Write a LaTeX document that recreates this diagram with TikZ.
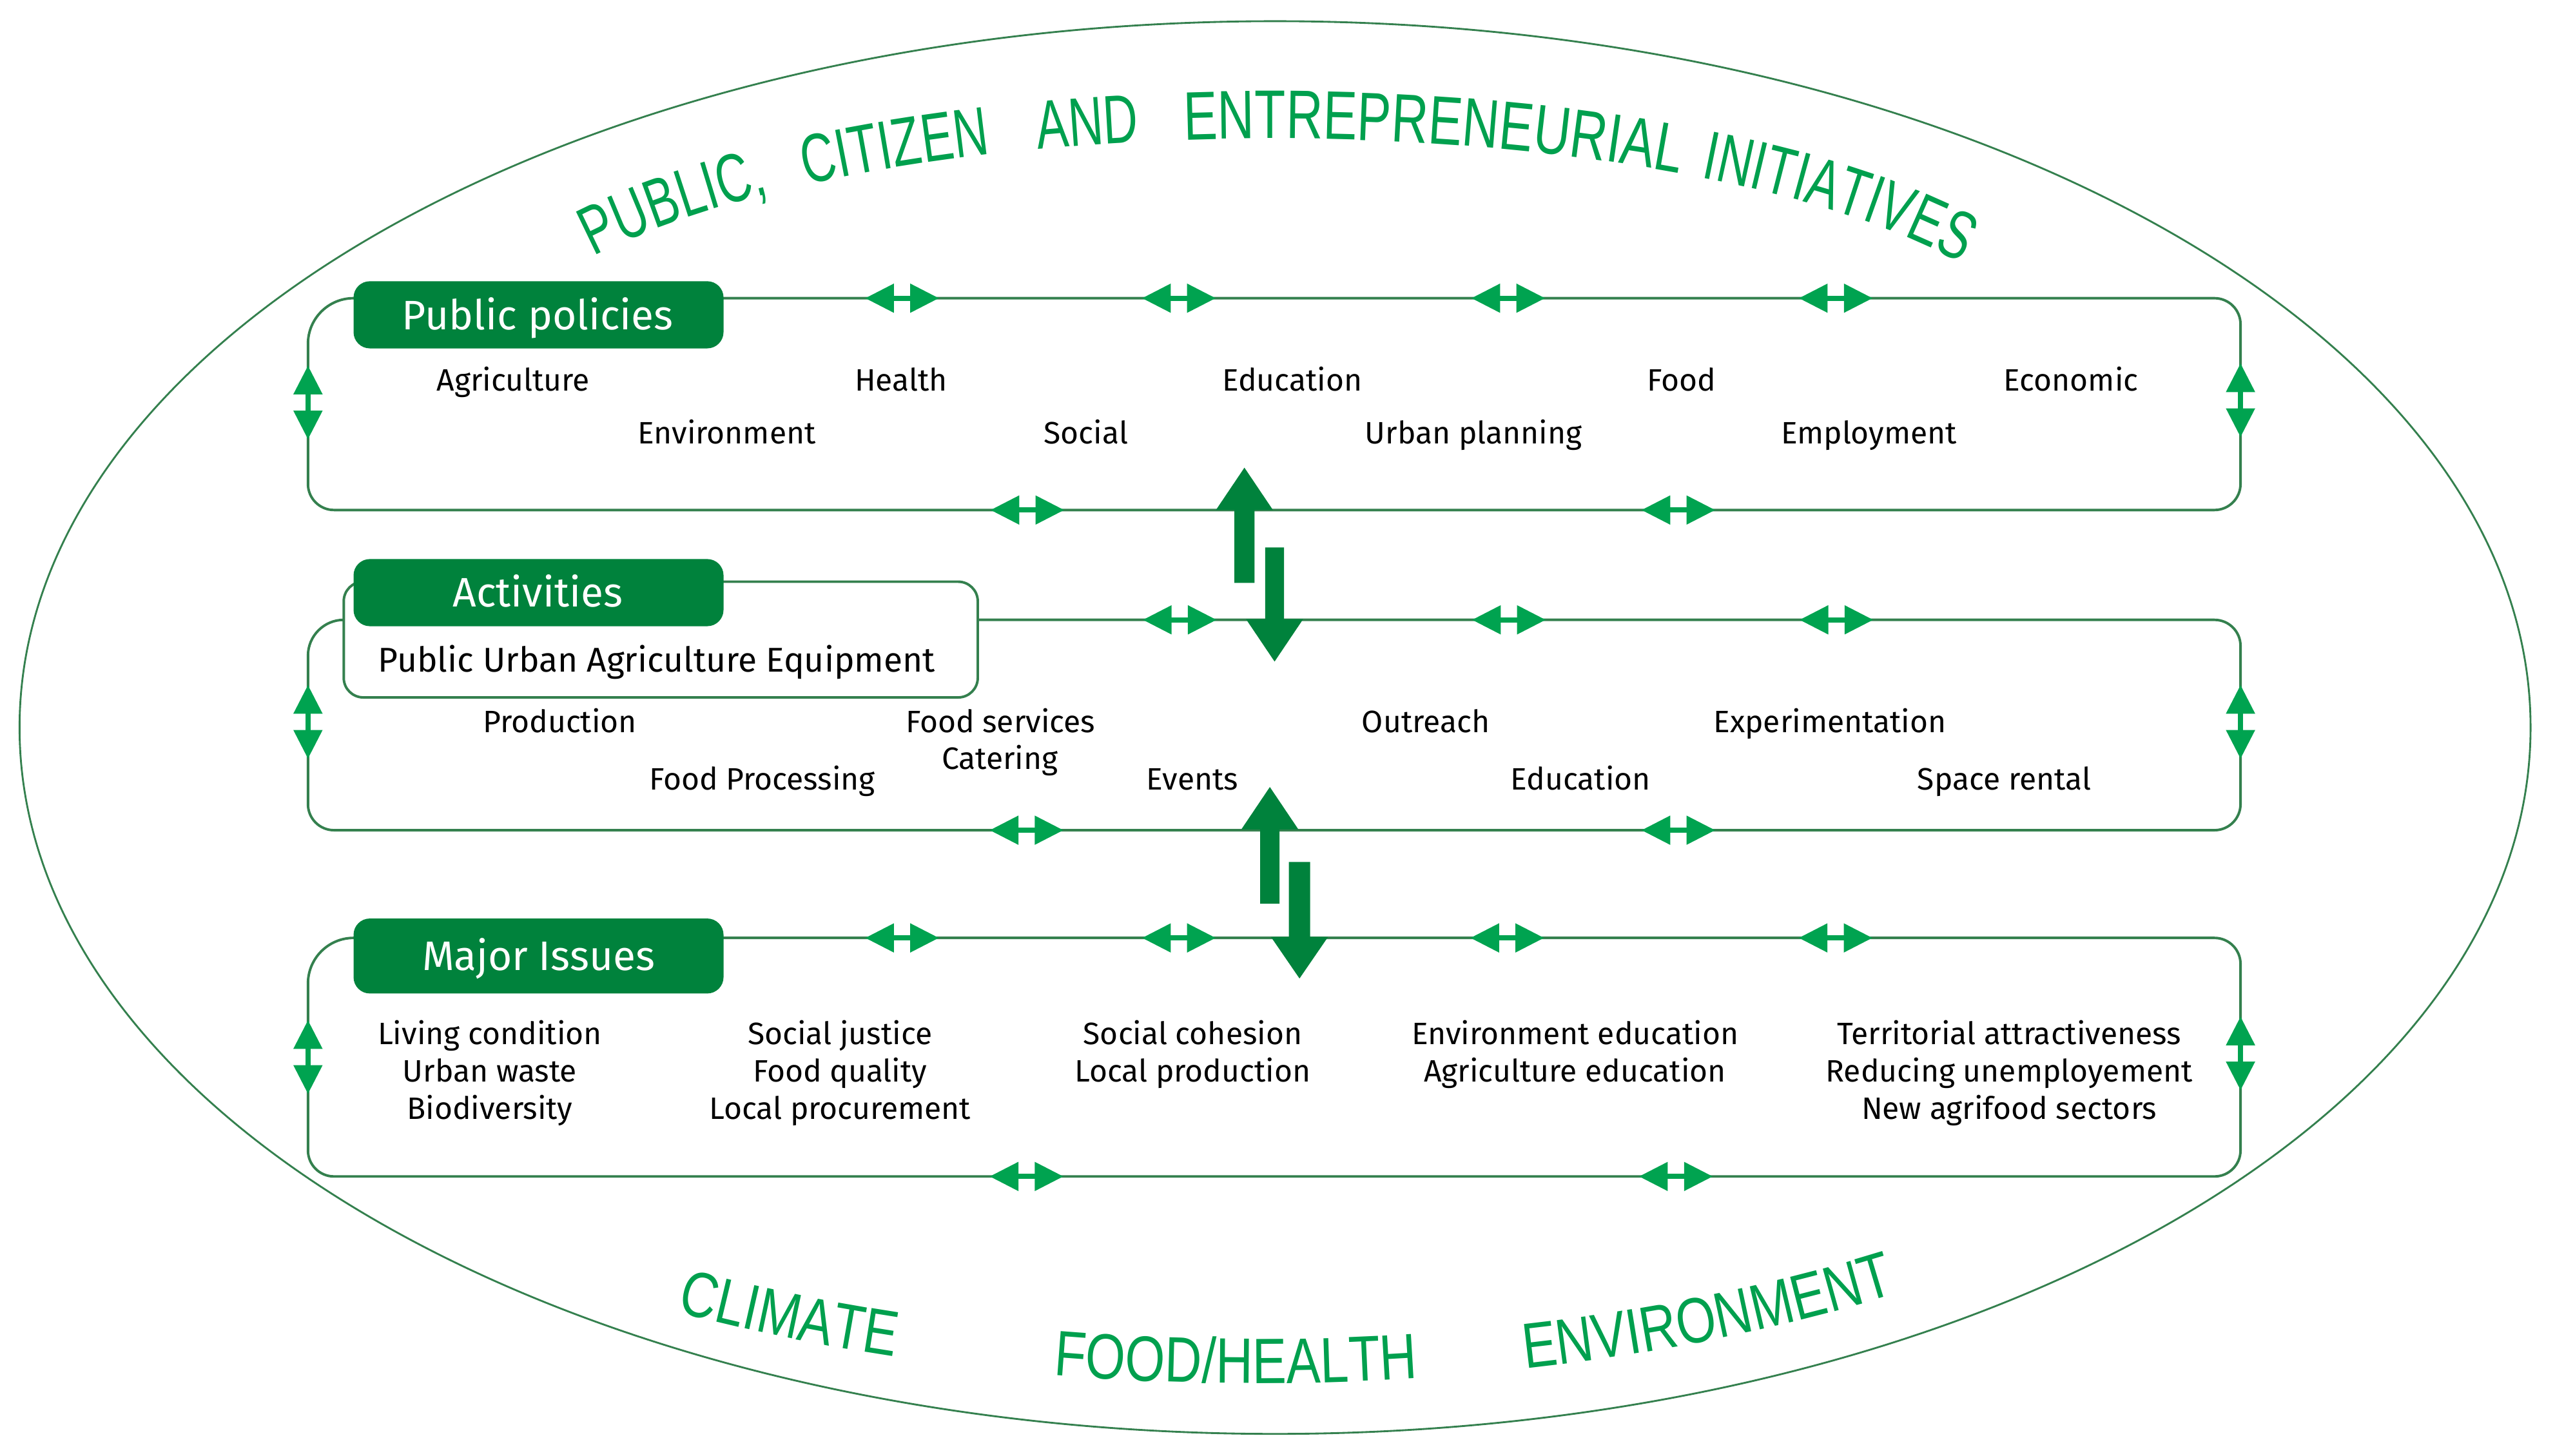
\documentclass[tikz,border=0pt]{standalone}
\usepackage{fontspec}
\setmainfont{Fira Sans}
\newfontfamily\arcfontA[FakeStretch=0.7]{Liberation Sans}
\newfontfamily\arcfontC[FakeStretch=0.74]{Liberation Sans}
\newfontfamily\arcfontB[FakeStretch=0.8]{Liberation Sans}
\usetikzlibrary{decorations.text}
\definecolor{boxgreen}{RGB}{0,130,60}
\definecolor{tipgreen}{RGB}{0,163,80}
\definecolor{linegreen}{RGB}{52,128,78}
\definecolor{arcgreen}{RGB}{0,160,78}
\newcommand\myarcA{\arcfontA\fontsize{30}{32}\selectfont\color{arcgreen}}
\newcommand\myarcC{\arcfontC\fontsize{30}{32}\selectfont\color{arcgreen}}
\newcommand\myarcB{\arcfontB\fontsize{28}{30}\selectfont\color{arcgreen}}
\tikzset{
  panel/.style={draw=linegreen, line width=1.1pt},
  outerring/.style={draw=linegreen, line width=0.8pt},
  labelbox/.style={fill=boxgreen, rounded corners=0.25cm, minimum width=5.675cm, minimum height=1.03cm, inner sep=0pt},
  labeltext/.style={text=white, font=\fontsize{18}{20}\selectfont, inner sep=0pt, anchor=base},
  whitebox/.style={draw=linegreen, line width=1.1pt, fill=white, rounded corners=0.3cm, minimum width=9.725cm, minimum height=1.775cm, inner sep=0pt},
  equiptext/.style={font=\fontsize{15}{18}\selectfont, inner sep=0pt, anchor=base},
  item/.style={font=\fontsize{13.5}{16}\selectfont, inner sep=0pt, anchor=base},
  bigarrow/.style={fill=boxgreen},
  dblarrow/.pic={
    \fill[tipgreen] (-22.5,0) -- (-5,9) -- (-5,-9) -- cycle;
    \fill[tipgreen] (22.5,0) -- (5,9) -- (5,-9) -- cycle;
    \fill[tipgreen] (-6,-1.6) rectangle (6,1.6);
  },
  arctop/.style={decorate, decoration={text along path, text align=center, text={|\myarcA|#1}}},
  arctopwide/.style={decorate, decoration={text along path, text align=center, text={|\myarcC|#1}}},
  arcbot/.style={decorate, decoration={text along path, text align=center, text={|\myarcB|#1}}}
}
\begin{document}
\begin{tikzpicture}[x=0.025cm, y=0.025cm]
\useasboundingbox (0,0) rectangle (1568,-893.5);

% outer ellipse
\draw[outerring] (782.5,-446.5) ellipse [x radius=770.5, y radius=433.5];

% arc texts
\path[arctop={PUBLIC,}] ([shift={(155:480 and 145)}]780,-230) arc[start angle=155, end angle=126.6, x radius=480, y radius=145];
\path[arctop={CITIZEN}] ([shift={(130:480 and 145)}]780,-230) arc[start angle=130, end angle=108, x radius=480, y radius=145];
\path[arctop={AND}] ([shift={(111.6:480 and 145)}]780,-230) arc[start angle=111.6, end angle=95.6, x radius=480, y radius=145];
\path[arctopwide={ENTREPRENEURIAL}] ([shift={(98.75:480 and 145)}]780,-230) arc[start angle=98.75, end angle=55.75, x radius=480, y radius=145];
\path[arctop={INITIATIVES}] ([shift={(58.7:480 and 145)}]780,-230) arc[start angle=58.7, end angle=24.7, x radius=480, y radius=145];

\path[arcbot={CLIMATE}] ([shift={(225:700 and 319)}]770,-530) arc[start angle=225, end angle=264, x radius=700, y radius=319];
\path[arcbot={FOOD/HEALTH}] ([shift={(250:700 and 319)}]770,-530) arc[start angle=250, end angle=288, x radius=700, y radius=319];
\path[arcbot={ENVIRONMENT}] ([shift={(275.3:700 and 319)}]770,-530) arc[start angle=275.3, end angle=314.3, x radius=700, y radius=319];

% panels
\draw[panel] (217,-183) -- (1359,-183) arc[start angle=90,end angle=0,radius=16] -- (1375,-297) arc[start angle=0,end angle=-90,radius=16] -- (205,-313) arc[start angle=270,end angle=180,radius=16] -- (189,-211) arc[start angle=180,end angle=90,radius=28];
\draw[panel] (600,-380.4) -- (1359,-380.4) arc[start angle=90,end angle=0,radius=16] -- (1375,-493.5) arc[start angle=0,end angle=-90,radius=16] -- (205,-509.5) arc[start angle=270,end angle=180,radius=16] -- (189,-402.4) arc[start angle=180,end angle=90,radius=22];
\draw[panel] (217,-575.6) -- (1359,-575.6) arc[start angle=90,end angle=0,radius=16] -- (1375,-706) arc[start angle=0,end angle=-90,radius=16] -- (205,-722) arc[start angle=270,end angle=180,radius=16] -- (189,-603.6) arc[start angle=180,end angle=90,radius=28];

% label boxes
\node[labelbox] (ppbox) at (330.5,-193.2) {};
\node[labeltext] (pptxt) at (330,-202.4) {Public policies};
\node[whitebox] (puabox) at (405.5,-392.5) {};
\node[equiptext] (puatxt) at (403,-412.4) {Public Urban Agriculture Equipment};
\node[labelbox] (actbox) at (330.5,-363.7) {};
\node[labeltext] (acttxt) at (330,-372.5) {Activities};
\node[labelbox, minimum height=1.15cm] (mibox) at (330.5,-586.7) {};
\node[labeltext] (mitxt) at (330.5,-595.7) {Major Issues};

% big arrows
\fill[bigarrow] (763.7,-287) -- (781.2,-313) -- (769.9,-313) -- (769.9,-357.7) -- (757.5,-357.7) -- (757.5,-313) -- (746.2,-313) -- cycle;
\fill[bigarrow] (782.2,-406) -- (799.7,-380) -- (788,-380) -- (788,-336) -- (776.4,-336) -- (776.4,-380) -- (764.7,-380) -- cycle;
\fill[bigarrow] (779.3,-483) -- (796.8,-509) -- (785.2,-509) -- (785.2,-554.6) -- (773.4,-554.6) -- (773.4,-509) -- (761.8,-509) -- cycle;
\fill[bigarrow] (797.5,-600.5) -- (815,-575) -- (804,-575) -- (804,-529) -- (791,-529) -- (791,-575) -- (780,-575) -- cycle;

% double arrowheads
\foreach \x in {553.6,723.5,925.6,1126.6} \pic at (\x,-183) {dblarrow};
\foreach \x in {630.5,1030} \pic at (\x,-313) {dblarrow};
\foreach \x in {724,926,1127} \pic at (\x,-380.4) {dblarrow};
\foreach \x in {630,1030} \pic at (\x,-509.5) {dblarrow};
\foreach \x in {553.6,723.5,925,1126.5} \pic at (\x,-575.6) {dblarrow};
\foreach \x in {630,1028.5} \pic at (\x,-722) {dblarrow};
\pic[rotate=90] at (189,-247) {dblarrow};
\pic[rotate=90] at (1375,-245.6) {dblarrow};
\pic[rotate=90] at (189,-443) {dblarrow};
\pic[rotate=90] at (1375,-443) {dblarrow};
\pic[rotate=90] at (189,-648.7) {dblarrow};
\pic[rotate=90] at (1375,-646.5) {dblarrow};

% public policies items
\node[item] (p1) at (315,-240) {Agriculture};
\node[item] (p2) at (553,-240) {Health};
\node[item] (p3) at (793,-240) {Education};
\node[item] (p4) at (1032,-240) {Food};
\node[item] (p5) at (1271,-240) {Economic};
\node[item] (p6) at (446,-272.4) {Environment};
\node[item] (p7) at (666.5,-272.4) {Social};
\node[item] (p8) at (904.3,-272.4) {Urban planning};
\node[item] (p9) at (1147,-272.4) {Employment};

% activities items
\node[item] (a1) at (343.6,-449.6) {Production};
\node[item] (a2) at (614,-449.6) {Food services};
\node[item] (a3) at (613.6,-472) {Catering};
\node[item] (a4) at (875,-449.6) {Outreach};
\node[item] (a5) at (1123,-449.6) {Experimentation};
\node[item] (a6) at (467.8,-484.6) {Food Processing};
\node[item] (a7) at (731.8,-484.6) {Events};
\node[item] (a8) at (970,-484.6) {Education};
\node[item] (a9) at (1230,-484.6) {Space rental};

% major issues items
\node[item] (m1a) at (300.6,-641) {Living condition};
\node[item] (m1b) at (300.6,-664) {Urban waste};
\node[item] (m1c) at (300.6,-687) {Biodiversity};
\node[item] (m2a) at (515.5,-641) {Social justice};
\node[item] (m2b) at (515.5,-664) {Food quality};
\node[item] (m2c) at (515.5,-687) {Local procurement};
\node[item] (m3a) at (732,-641) {Social cohesion};
\node[item] (m3b) at (732,-664) {Local production};
\node[item] (m4a) at (966.6,-641) {Environment education};
\node[item] (m4b) at (966.6,-664) {Agriculture education};
\node[item] (m5a) at (1233,-641) {Territorial attractiveness};
\node[item] (m5b) at (1233,-664) {Reducing unemployement};
\node[item] (m5c) at (1233,-687) {New agrifood sectors};
\end{tikzpicture}
\end{document}
